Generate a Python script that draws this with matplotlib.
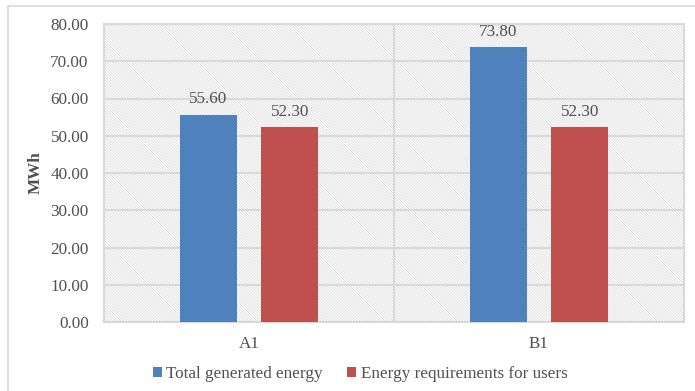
import matplotlib
matplotlib.use("Agg")
import matplotlib.pyplot as plt
from matplotlib.patches import Rectangle
import numpy as np

categories = ["A1", "B1"]
series_names = ["Total generated energy", "Energy requirements for users"]
total_generated = [55.60, 73.80]
user_requirements = [52.30, 52.30]
yticks = [0, 10, 20, 30, 40, 50, 60, 70, 80]

colors = ["#4f81bd", "#c0504d"]
text_color = "#505050"
grid_color = "#d9d9d9"
fs = 12.3

plt.rcParams["font.family"] = ["Liberation Serif", "DejaVu Serif"]
plt.rcParams["hatch.color"] = "#d6d6d6"
plt.rcParams["hatch.linewidth"] = 0.5

fig = plt.figure(figsize=(6.95, 3.91), dpi=100)
W, H = 695, 391

# outer chart border
fig.patches.append(Rectangle((8 / W, -0.05), 1.0, 1 - 6 / H + 0.05,
                             transform=fig.transFigure, fill=False,
                             edgecolor="#d9d9d9", linewidth=1.2))

ax = fig.add_axes([104 / W, 1 - 322 / H, (684 - 104) / W, (322 - 24) / H])

# hatched plot background
ax.add_patch(Rectangle((0, 0), 1, 1, transform=ax.transAxes, facecolor="white",
                       hatch="\\" * 12, edgecolor="#d6d6d6", linewidth=0, zorder=0))

x = np.arange(len(categories))
bw = 0.197
off = 0.141
b1 = ax.bar(x - off, total_generated, bw, color=colors[0], label=series_names[0], zorder=3)
b2 = ax.bar(x + off, user_requirements, bw, color=colors[1], label=series_names[1], zorder=3)

for bars, vals in ((b1, total_generated), (b2, user_requirements)):
    for rect, v in zip(bars, vals):
        ax.text(rect.get_x() + rect.get_width() / 2, v + 2.0, f"{v:.2f}",
                ha="center", va="bottom", fontsize=fs, color=text_color, zorder=4)

ax.set_xlim(-0.5, len(categories) - 0.5)
ax.set_ylim(0, 80)
ax.set_yticks(yticks)
ax.set_yticklabels([f"{t:.2f}" for t in yticks])
ax.set_xticks(x)
ax.set_xticklabels(categories)
ax.tick_params(axis="both", length=0, labelsize=fs, labelcolor=text_color)
ax.tick_params(axis="y", pad=11)
ax.tick_params(axis="x", pad=10)

for y in yticks:
    ax.axhline(y, color=grid_color, linewidth=1.5, zorder=1)
for xb in np.arange(0.5, len(categories) - 0.5):
    ax.axvline(xb, color=grid_color, linewidth=1.5, zorder=1)
for s in ax.spines.values():
    s.set_color(grid_color)
    s.set_linewidth(1.5)

ax.set_ylabel("MWh", fontsize=fs, fontweight="bold", color=text_color, labelpad=5)

fig.legend(handles=[b1, b2], loc="center", bbox_to_anchor=(360 / W, 1 - 374 / H),
           ncol=2, frameon=False, fontsize=fs, labelcolor=text_color,
           handlelength=0.55, handleheight=0.55, handletextpad=0.25, columnspacing=1.4)

fig.savefig("out.png", dpi=100)
